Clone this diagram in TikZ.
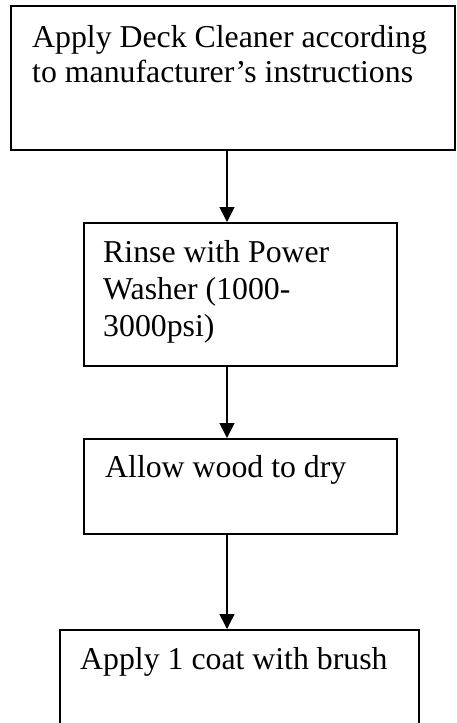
\documentclass[tikz,border=0pt]{standalone}
\usepackage{fontspec}
\setmainfont{Liberation Serif}
\usetikzlibrary{arrows.meta}
\tikzset{
  stepbox/.style={draw=black, line width=2pt, rectangle, inner sep=0pt, anchor=north west},
  txt/.style={anchor=base west, inner sep=0pt, font=\fontsize{31.8}{36}\selectfont},
  flow/.style={draw=black, line width=1.5pt, -{Triangle[length=15pt,width=15pt]}}
}
\begin{document}
\begin{tikzpicture}[x=1pt,y=-1pt]
\useasboundingbox (0,0) rectangle (456,723);
\clip (0,0) rectangle (456,723);
% boxes
\node[stepbox, minimum width=444pt, minimum height=144pt] (b1) at (10,5) {};
\node[stepbox, minimum width=313pt, minimum height=143pt] (b2) at (83,222) {};
\node[stepbox, minimum width=313pt, minimum height=95pt] (b3) at (83,438) {};
\node[stepbox, minimum width=359pt, minimum height=120pt] (b4) at (59,629) {};
% texts
\node[txt] (t1a) at (32,47) {Apply Deck Cleaner according};
\node[txt] (t1b) at (32,82) {to manufacturer’s instructions};
\node[txt] (t2a) at (103,262) {Rinse with Power};
\node[txt] (t2b) at (103,299) {Washer (1000-};
\node[txt] (t2c) at (103,336) {3000psi)};
\node[txt] (t3a) at (105,477) {Allow wood to dry};
\node[txt] (t4a) at (80,669) {Apply 1 coat with brush};
% arrows
\coordinate (a1s) at (227,149);
\draw[flow] (b1.south -| a1s) -- (b2.north -| a1s);
\draw[flow] (b2.south -| a1s) -- (b3.north -| a1s);
\draw[flow] (b3.south -| a1s) -- (b4.north -| a1s);
\end{tikzpicture}
\end{document}
